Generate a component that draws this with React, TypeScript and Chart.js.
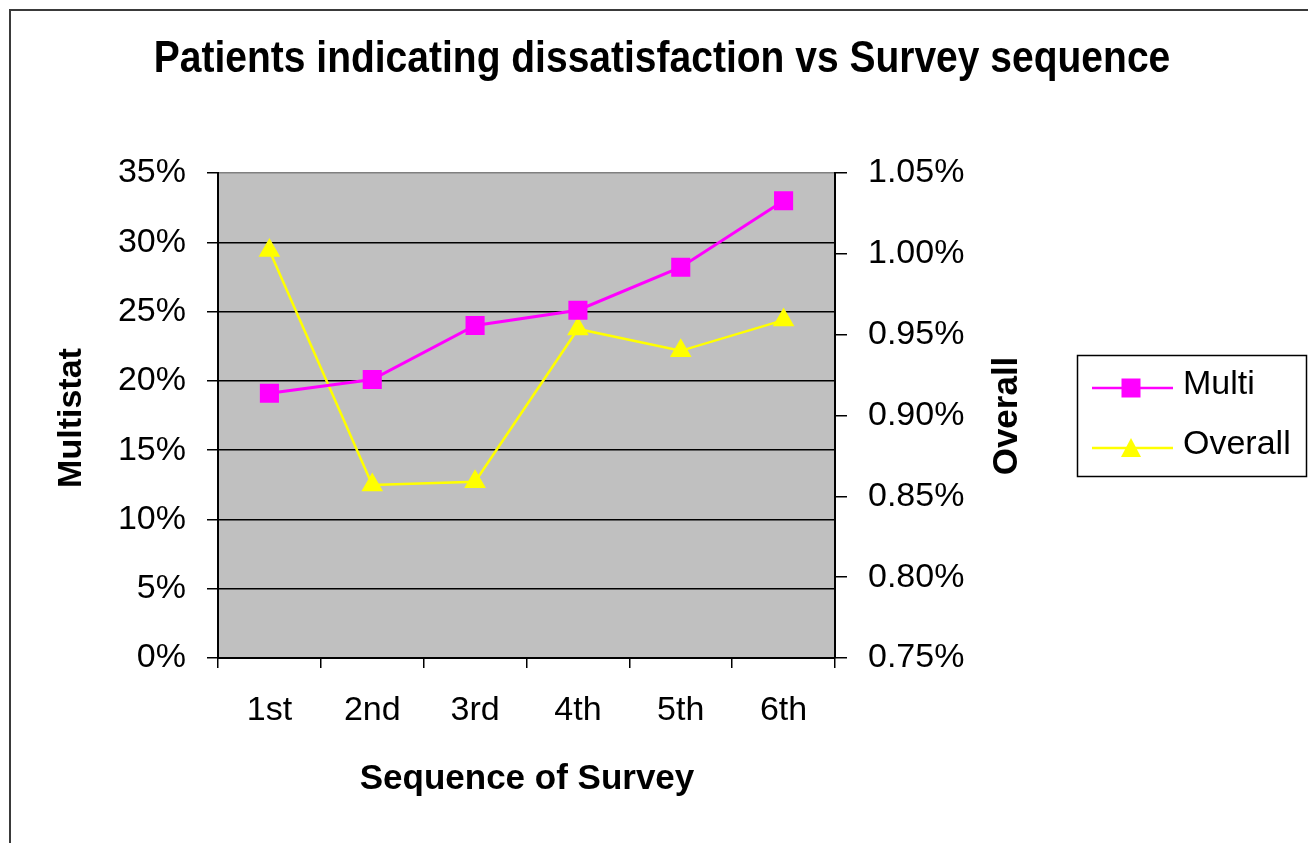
import React, { useEffect, useRef } from 'react';
import { Chart, registerables } from 'chart.js';

Chart.register(...registerables);

const categories = ['1st', '2nd', '3rd', '4th', '5th', '6th'];
const multiValues = [19.1, 20.1, 24.0, 25.1, 28.2, 33.0];
const overallValues = [1.002, 0.857, 0.859, 0.9535, 0.94, 0.959];
const seriesNames = ['Multi', 'Overall'];
const titleText = 'Patients indicating dissatisfaction vs Survey sequence';
const xTitle = 'Sequence of Survey';
const leftTitle = 'Multistat';
const rightTitle = 'Overall';
const leftMin = 0;
const leftMax = 35;
const leftStep = 5;
const rightMin = 0.75;
const rightMax = 1.05;
const rightStep = 0.05;

const FONT = 'Arial, "Liberation Sans", sans-serif';
const MAGENTA = '#FF00FF';
const YELLOW = '#FFFF00';

const decor = {
  id: 'decor',
  beforeDraw(chart: any) {
    const { ctx, chartArea: a } = chart;
    ctx.save();
    ctx.fillStyle = '#ffffff';
    ctx.fillRect(0, 0, chart.width, chart.height);
    ctx.fillStyle = '#C0C0C0';
    ctx.fillRect(a.left, a.top, a.right - a.left, a.bottom - a.top);
    // outer frame
    ctx.strokeStyle = '#3a3a3a';
    ctx.lineWidth = 2;
    ctx.beginPath();
    ctx.moveTo(10, chart.height);
    ctx.lineTo(10, 10);
    ctx.lineTo(chart.width, 10);
    ctx.stroke();
    ctx.restore();
  },
  afterDraw(chart: any) {
    const { ctx } = chart;
    ctx.save();
    ctx.fillStyle = '#000';
    ctx.textAlign = 'center';
    ctx.textBaseline = 'middle';

    ctx.save();
    ctx.translate(662, 60);
    ctx.scale(1, 1.12);
    ctx.font = `bold 39px ${FONT}`;
    ctx.fillText(titleText, 0, 0);
    ctx.restore();

    ctx.font = `bold 35px ${FONT}`;
    ctx.fillText(xTitle, 527, 779);

    ctx.save();
    ctx.translate(72, 418);
    ctx.rotate(-Math.PI / 2);
    ctx.font = `bold 34px ${FONT}`;
    ctx.fillText(leftTitle, 0, 0);
    ctx.restore();

    ctx.save();
    ctx.translate(1007, 416);
    ctx.rotate(-Math.PI / 2);
    ctx.font = `bold 35px ${FONT}`;
    ctx.fillText(rightTitle, 0, 0);
    ctx.restore();

    // legend
    ctx.strokeStyle = '#000';
    ctx.lineWidth = 1.5;
    ctx.strokeRect(1077.5, 355.5, 229, 121);
    const ds = chart.data.datasets;
    const rows = [388, 448];
    ds.forEach((d: any, i: number) => {
      const y = rows[i];
      ctx.strokeStyle = d.borderColor;
      ctx.lineWidth = 2.5;
      ctx.beginPath();
      ctx.moveTo(1092, y);
      ctx.lineTo(1173, y);
      ctx.stroke();
      ctx.fillStyle = d.backgroundColor;
      if (d.pointStyle === 'rect') {
        ctx.fillRect(1121.5, y - 9.5, 19, 19);
      } else {
        ctx.beginPath();
        ctx.moveTo(1131, y - 10);
        ctx.lineTo(1141, y + 9);
        ctx.lineTo(1121, y + 9);
        ctx.closePath();
        ctx.fill();
      }
      ctx.fillStyle = '#000';
      ctx.textAlign = 'left';
      ctx.font = `34px ${FONT}`;
      ctx.fillText(d.label, 1183, y - 3);
    });
    ctx.restore();
  },
};

export default function App() {
  const ref = useRef<HTMLCanvasElement>(null);
  useEffect(() => {
    if (!ref.current) return;
    const chart = new Chart(ref.current, {
      type: 'line',
      data: {
        labels: categories,
        datasets: [
          {
            label: seriesNames[0],
            data: multiValues,
            yAxisID: 'y',
            borderColor: MAGENTA,
            backgroundColor: MAGENTA,
            borderWidth: 3,
            pointStyle: 'rect',
            pointRadius: 13.5,
            pointBorderWidth: 0,
            pointHoverRadius: 13.5,
            tension: 0,
          },
          {
            label: seriesNames[1],
            data: overallValues,
            yAxisID: 'y1',
            borderColor: YELLOW,
            backgroundColor: YELLOW,
            borderWidth: 2.5,
            pointStyle: 'triangle',
            pointRadius: 12.5,
            pointBorderWidth: 0,
            pointHoverRadius: 12.5,
            tension: 0,
          },
        ],
      },
      options: {
        responsive: false,
        animation: false,
        events: [],
        layout: { padding: { top: 173, left: 0, right: 0, bottom: 0 } },
        plugins: {
          legend: { display: false },
          title: { display: false },
          tooltip: { enabled: false },
        },
        scales: {
          x: {
            type: 'category',
            offset: true,
            grid: {
              offset: true,
              drawOnChartArea: false,
              color: '#000',
              lineWidth: 1.5,
              tickLength: 10,
            },
            border: { color: '#000', width: 2 },
            ticks: {
              color: '#000',
              font: { family: FONT, size: 34 },
              padding: 22,
              maxRotation: 0,
            },
            afterFit(scale: any) {
              scale.height = 185;
            },
          },
          y: {
            position: 'left',
            min: leftMin,
            max: leftMax,
            ticks: {
              stepSize: leftStep,
              color: '#000',
              font: { family: FONT, size: 34 },
              padding: 21,
              callback: (v: any) => `${v}%`,
            },
            grid: {
              color: (c: any) => (c.tick && c.tick.value === leftMax ? '#808080' : '#000'),
              tickColor: '#000',
              lineWidth: 1.5,
              tickLength: 11,
            },
            border: { color: '#000', width: 2 },
            afterFit(scale: any) {
              scale.width = 218;
            },
          },
          y1: {
            position: 'right',
            min: rightMin,
            max: rightMax,
            ticks: {
              stepSize: rightStep,
              color: '#000',
              font: { family: FONT, size: 34 },
              padding: 21,
              callback: (v: any) => `${Number(v).toFixed(2)}%`,
            },
            grid: {
              drawOnChartArea: false,
              color: '#000',
              lineWidth: 1.5,
              tickLength: 12,
            },
            border: { color: '#000', width: 2 },
            afterFit(scale: any) {
              scale.width = 473;
            },
          },
        },
      } as any,
      plugins: [decor],
    });
    return () => chart.destroy();
  }, []);
  return (
    <div style={{ position: 'fixed', left: 0, top: 0, width: 1308, height: 843, background: '#fff' }}>
      <canvas ref={ref} width={1308} height={843} style={{ display: 'block' }} />
    </div>
  );
}
